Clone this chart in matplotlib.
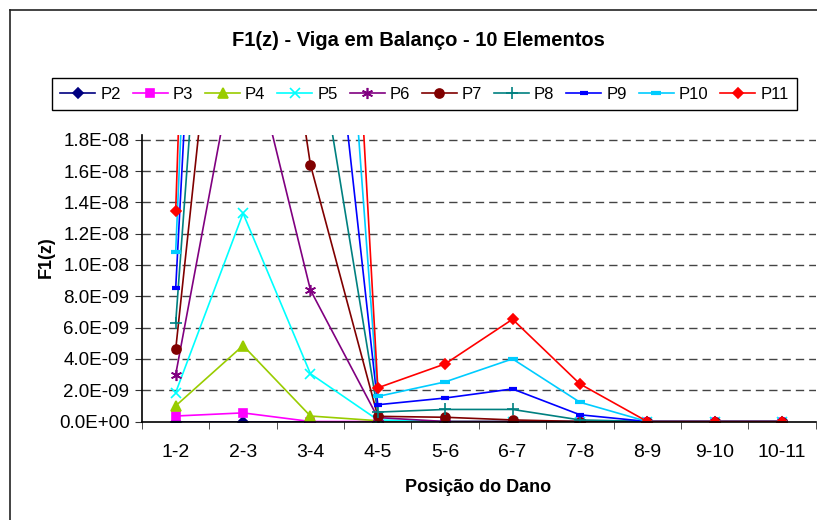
import matplotlib
matplotlib.use("Agg")
import matplotlib.pyplot as plt
from matplotlib.lines import Line2D

plt.rcParams['font.family'] = ['Liberation Sans', 'DejaVu Sans']

# categories (damage position)
posicoes = ['1-2', '2-3', '3-4', '4-5', '5-6', '6-7', '7-8', '8-9', '9-10', '10-11']

# F1(z) values per series (off-scale values estimated)
p2 = [0, 0, 0, 0, 0, 0, 0, 0, 0, 0]
p3 = [0.35e-9, 0.55e-9, 0, 0, 0, 0, 0, 0, 0, 0]
p4 = [1.0e-9, 4.85e-9, 0.35e-9, 0.05e-9, 0, 0, 0, 0, 0, 0]
p5 = [1.85e-9, 1.33e-8, 3.05e-9, 0.1e-9, 0, 0, 0, 0, 0, 0]
p6 = [3.0e-9, 2.6e-8, 8.4e-9, 0.25e-9, 0, 0, 0, 0, 0, 0]
p7 = [4.6e-9, 4.5e-8, 1.64e-8, 0.33e-9, 0.27e-9, 0.1e-9, 0, 0, 0, 0]
p8 = [6.3e-9, 6.5e-8, 2.7e-8, 0.6e-9, 0.77e-9, 0.77e-9, 0.1e-9, 0, 0, 0]
p9 = [8.5e-9, 9.0e-8, 4.0e-8, 1.07e-9, 1.5e-9, 2.08e-9, 0.43e-9, 0, 0, 0]
p10 = [1.085e-8, 1.1e-7, 6.0e-8, 1.6e-9, 2.53e-9, 4.0e-9, 1.23e-9, 0, 0, 0]
p11 = [1.346e-8, 1.4e-7, 8.0e-8, 2.15e-9, 3.68e-9, 6.53e-9, 2.4e-9, 0, 0, 0]

series = [
    ('P2', p2, '#000080', 'D', 5),
    ('P3', p3, '#FF00FF', 's', 6),
    ('P4', p4, '#99CC00', '^', 7),
    ('P5', p5, '#00FFFF', 'x', 7),
    ('P6', p6, '#800080', (6, 2, 0), 8),
    ('P7', p7, '#800000', 'o', 6.5),
    ('P8', p8, '#008080', '+', 8),
    ('P9', p9, '#0000FF', '_', 6),
    ('P10', p10, '#00CCFF', '_', 7),
    ('P11', p11, '#FF0000', 'D', 5.5),
]

fig = plt.figure(figsize=(8.17, 5.2), dpi=100)
ax = fig.add_axes([142/817, 1 - 421.5/520, (815.7-142)/817, (421.5-135)/520])

x = list(range(len(posicoes)))
for nome, vals, cor, mk, ms in series:
    mew = 3 if mk == '_' else 1.2
    ax.plot(x, vals, color=cor, lw=1.2, marker=mk, markersize=ms,
            markerfacecolor=cor, markeredgecolor=cor, markeredgewidth=mew,
            label=nome)

ax.set_xlim(-0.5, 9.5)
ax.set_ylim(0, 1.83e-8)

yt = [i * 2e-9 for i in range(10)]
labs = []
for v in yt:
    if v == 0:
        labs.append('0.0E+00')
    elif v < 1e-8:
        labs.append('%.1fE-09' % (v * 1e9))
    else:
        labs.append('%.1fE-08' % (v * 1e8))
ax.set_yticks(yt)
ax.set_yticklabels(labs, fontsize=13.5)

ax.set_xticks(x)
ax.set_xticklabels(posicoes, fontsize=14)
ax.set_xticks([i - 0.5 for i in range(11)], minor=True)
ax.tick_params(axis='x', which='major', length=0, pad=16)
ax.tick_params(axis='x', which='minor', length=5, direction='out', color='#333333')
ax.tick_params(axis='y', length=5, direction='out', color='#333333', pad=4)

for v in yt[1:]:
    ax.axhline(v, color='#444444', lw=1.0, ls=(0, (6, 3.6)), zorder=0)

for s in ['top', 'right']:
    ax.spines[s].set_visible(False)
for s in ['left', 'bottom']:
    ax.spines[s].set_color('black')
    ax.spines[s].set_linewidth(1.2)

fig.text(418/817, 1 - 41/520, 'F1(z) - Viga em Balanço - 10 Elementos',
         fontsize=14.5, fontweight='bold', ha='center', va='center')
fig.text(478/817, 1 - 487/520, 'Posição do Dano', fontsize=13,
         fontweight='bold', ha='center', va='center')
fig.text(46.5/817, 1 - 257.5/520, 'F1(z)', fontsize=13, fontweight='bold',
         rotation=90, ha='center', va='center')

leg = ax.legend(loc='lower left', ncol=10, mode='expand',
                bbox_to_anchor=(52/817, 1 - 110/520, (797-52)/817, 37/520),
                bbox_transform=fig.transFigure, fontsize=12, frameon=True,
                fancybox=False, edgecolor='black', framealpha=1,
                handlelength=2.1, handletextpad=0.3, borderaxespad=0,
                borderpad=0.5, numpoints=1)
leg.get_frame().set_linewidth(1.0)

# outer chart border
fig.add_artist(Line2D([10/817, 10/817], [0, 1 - 10/520], color='#222222', lw=1.2))
fig.add_artist(Line2D([10/817, 1], [1 - 10/520, 1 - 10/520], color='#222222', lw=1.2))

fig.savefig('out.png', dpi=100)
